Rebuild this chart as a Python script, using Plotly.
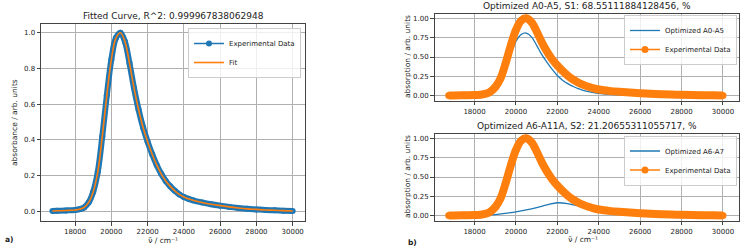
import plotly.graph_objects as go

W, H = 744, 249

# ---------------- data ----------------
exp_x = [16750, 17000, 17500, 18000, 18250, 18500, 18750, 19000, 19250, 19500,
         19750, 20000, 20250, 20500, 20750, 21000, 21250, 21500, 21750, 22000,
         22250, 22500, 22750, 23000, 23250, 23500, 23750, 24000, 24250, 24500,
         25000, 25500, 26000, 26500, 27000, 27500, 28000, 28500, 29000, 29500, 30000]
exp_y = [0.002, 0.003, 0.005, 0.008, 0.012, 0.022, 0.05, 0.11, 0.22, 0.42,
         0.65, 0.85, 0.97, 1.00, 0.95, 0.83, 0.69, 0.57, 0.47, 0.39,
         0.32, 0.26, 0.21, 0.17, 0.14, 0.115, 0.095, 0.08, 0.07, 0.062,
         0.05, 0.04, 0.032, 0.025, 0.019, 0.014, 0.011, 0.008, 0.006, 0.004, 0.002]
fit_y = [0.002, 0.003, 0.005, 0.008, 0.012, 0.022, 0.05, 0.11, 0.22, 0.42,
         0.65, 0.85, 0.97, 1.00, 0.95, 0.83, 0.69, 0.57, 0.47, 0.39,
         0.32, 0.26, 0.21, 0.17, 0.14, 0.115, 0.095, 0.08, 0.07, 0.062,
         0.05, 0.04, 0.032, 0.025, 0.019, 0.014, 0.011, 0.008, 0.006, 0.004, 0.002]

s1_x = [16750, 17000, 17500, 18000, 18250, 18500, 18750, 19000, 19250, 19500,
        19750, 20000, 20250, 20500, 20750, 21000, 21250, 21500, 21750, 22000,
        22250, 22500, 22750, 23000, 23250, 23500, 23750, 24000, 24500, 25000,
        25500, 26000, 27000, 28000, 29000, 30000]
s1_y = [0.0015, 0.002, 0.004, 0.006, 0.01, 0.018, 0.04, 0.09, 0.18, 0.34,
        0.53, 0.70, 0.79, 0.81, 0.76, 0.65, 0.53, 0.43, 0.34, 0.26,
        0.20, 0.155, 0.12, 0.09, 0.07, 0.053, 0.04, 0.03, 0.018, 0.010,
        0.006, 0.004, 0.002, 0.001, 0.0005, 0.0]

s2_x = [16750, 17500, 18000, 18500, 19000, 19500, 20000, 20500, 21000, 21500,
        22000, 22500, 23000, 23500, 24000, 24500, 25000, 25500, 26000, 27000,
        28000, 29000, 30000]
s2_y = [0.001, 0.002, 0.003, 0.006, 0.014, 0.03, 0.05, 0.075, 0.105, 0.14,
        0.167, 0.155, 0.125, 0.09, 0.065, 0.048, 0.036, 0.028, 0.022, 0.014,
        0.009, 0.005, 0.003]

x_ticks = [18000, 20000, 22000, 24000, 26000, 28000, 30000]
y_ticks_a = [0.0, 0.2, 0.4, 0.6, 0.8, 1.0]
y_ticks_b = [0.0, 0.25, 0.5, 0.75, 1.0]

title_a = "Fitted Curve, R^2: 0.999967838062948"
title_b1 = "Optimized A0-A5, S1: 68.55111884128456, %"
title_b2 = "Optimized A6-A11A, S2: 21.20655311055717, %"
xlabel = "ν̃ / cm⁻¹"
ylabel_a = "absorbance / arb. units"
ylabel_b = "absorption / arb. units"

BLUE = "#1f77b4"
ORANGE = "#ff7f0e"
FONT = "DejaVu Sans"
TXT = "#222222"


def px(x):
    return x / W


def py(y):
    return 1 - y / H


fig = go.Figure()

# ---- panel a ----
fig.add_trace(go.Scatter(x=exp_x, y=exp_y, mode="lines", line=dict(color=BLUE, width=6, shape="spline"),
                         showlegend=False, hoverinfo="skip", xaxis="x", yaxis="y"))
fig.add_trace(go.Scatter(x=exp_x, y=exp_y, mode="lines+markers", name="Experimental Data",
                         line=dict(color=BLUE, width=1.5, shape="spline"), marker=dict(size=6, color=BLUE),
                         xaxis="x", yaxis="y", legend="legend"))
fig.add_trace(go.Scatter(x=exp_x, y=fit_y, mode="lines", name="Fit",
                         line=dict(color=ORANGE, width=1.6, shape="spline"),
                         xaxis="x", yaxis="y", legend="legend"))

# ---- panel b top ----
fig.add_trace(go.Scatter(x=s1_x, y=s1_y, mode="lines", name="Optimized A0-A5",
                         line=dict(color=BLUE, width=1.3, shape="spline"),
                         xaxis="x2", yaxis="y2", legend="legend2"))
fig.add_trace(go.Scatter(x=exp_x, y=exp_y, mode="lines", line=dict(color=ORANGE, width=8, shape="spline"),
                         showlegend=False, hoverinfo="skip", xaxis="x2", yaxis="y2"))
fig.add_trace(go.Scatter(x=exp_x, y=exp_y, mode="lines+markers", name="Experimental Data",
                         line=dict(color=ORANGE, width=1.5, shape="spline"), marker=dict(size=7, color=ORANGE),
                         xaxis="x2", yaxis="y2", legend="legend2"))

# ---- panel b bottom ----
fig.add_trace(go.Scatter(x=s2_x, y=s2_y, mode="lines", name="Optimized A6-A7",
                         line=dict(color=BLUE, width=1.3, shape="spline"),
                         xaxis="x3", yaxis="y3", legend="legend3"))
fig.add_trace(go.Scatter(x=exp_x, y=exp_y, mode="lines", line=dict(color=ORANGE, width=8, shape="spline"),
                         showlegend=False, hoverinfo="skip", xaxis="x3", yaxis="y3"))
fig.add_trace(go.Scatter(x=exp_x, y=exp_y, mode="lines+markers", name="Experimental Data",
                         line=dict(color=ORANGE, width=1.5, shape="spline"), marker=dict(size=7, color=ORANGE),
                         xaxis="x3", yaxis="y3", legend="legend3"))

axis_common = dict(showgrid=True, gridcolor="#b0b0b0", gridwidth=1.2, showline=True, linecolor="#444444",
                   linewidth=1, mirror=True, ticks="outside", ticklen=3.5, tickcolor="#444444",
                   tickfont=dict(family=FONT, size=7, color=TXT), zeroline=False)

fig.update_layout(
    width=W, height=H, margin=dict(l=0, r=0, t=0, b=0),
    paper_bgcolor="white", plot_bgcolor="white", showlegend=True,
    xaxis=dict(domain=[px(41), px(305)], range=[16120, 30680], tickvals=x_ticks, tickformat="d",
               anchor="y", **axis_common),
    yaxis=dict(domain=[py(221), py(24)], range=[-0.054, 1.049], tickvals=y_ticks_a, tickformat=".1f",
               anchor="x", **axis_common),
    xaxis2=dict(domain=[px(434.5), px(739.3)], range=[16065, 30789], tickvals=x_ticks, tickformat="d",
                anchor="y2", **axis_common),
    yaxis2=dict(domain=[py(100.7), py(14)], range=[-0.065, 1.056], tickvals=y_ticks_b, tickformat=".2f",
                anchor="x2", **axis_common),
    xaxis3=dict(domain=[px(434.5), px(739.3)], range=[16065, 30789], tickvals=x_ticks, tickformat="d",
                anchor="y3", **axis_common),
    yaxis3=dict(domain=[py(220.7), py(134)], range=[-0.065, 1.056], tickvals=y_ticks_b, tickformat=".2f",
                anchor="x3", **axis_common),
)

legend_common = dict(bgcolor="rgba(255,255,255,0.8)", bordercolor="#cccccc", borderwidth=1,
                     font=dict(family=FONT, size=7, color=TXT), xanchor="right", yanchor="top",
                     itemwidth=30, tracegroupgap=0)
fig.update_layout(
    legend=dict(x=px(301), y=py(28), **legend_common),
    legend2=dict(x=px(737), y=py(15), **legend_common),
    legend3=dict(x=px(737), y=py(135.5), **legend_common),
)


def note(text, x, y, size, angle=0, xanchor="center", bold=False):
    fig.add_annotation(text=("<b>%s</b>" % text) if bold else text, x=px(x), y=py(y), xref="paper", yref="paper",
                       showarrow=False, xanchor=xanchor, yanchor="middle", textangle=angle,
                       font=dict(family=FONT, size=size, color=TXT))


note(title_a, 173, 16, 9)
note(title_b1, 587, 6, 9)
note(title_b2, 587, 125.7, 9)
note(xlabel, 163, 240, 7.5)
note(xlabel, 583, 239.5, 7.5)
note(ylabel_a, 15, 123, 7.5, angle=-90)
note(ylabel_b, 407, 56, 7.5, angle=-90)
note(ylabel_b, 407, 176, 7.5, angle=-90)
note("a)", 3, 239, 7.5, xanchor="left", bold=True)
note("b)", 406, 242, 7.5, xanchor="left", bold=True)

fig.write_html("out.html", config={"displayModeBar": False},
               post_script="document.body.style.margin='0';document.body.style.overflow='hidden';")
